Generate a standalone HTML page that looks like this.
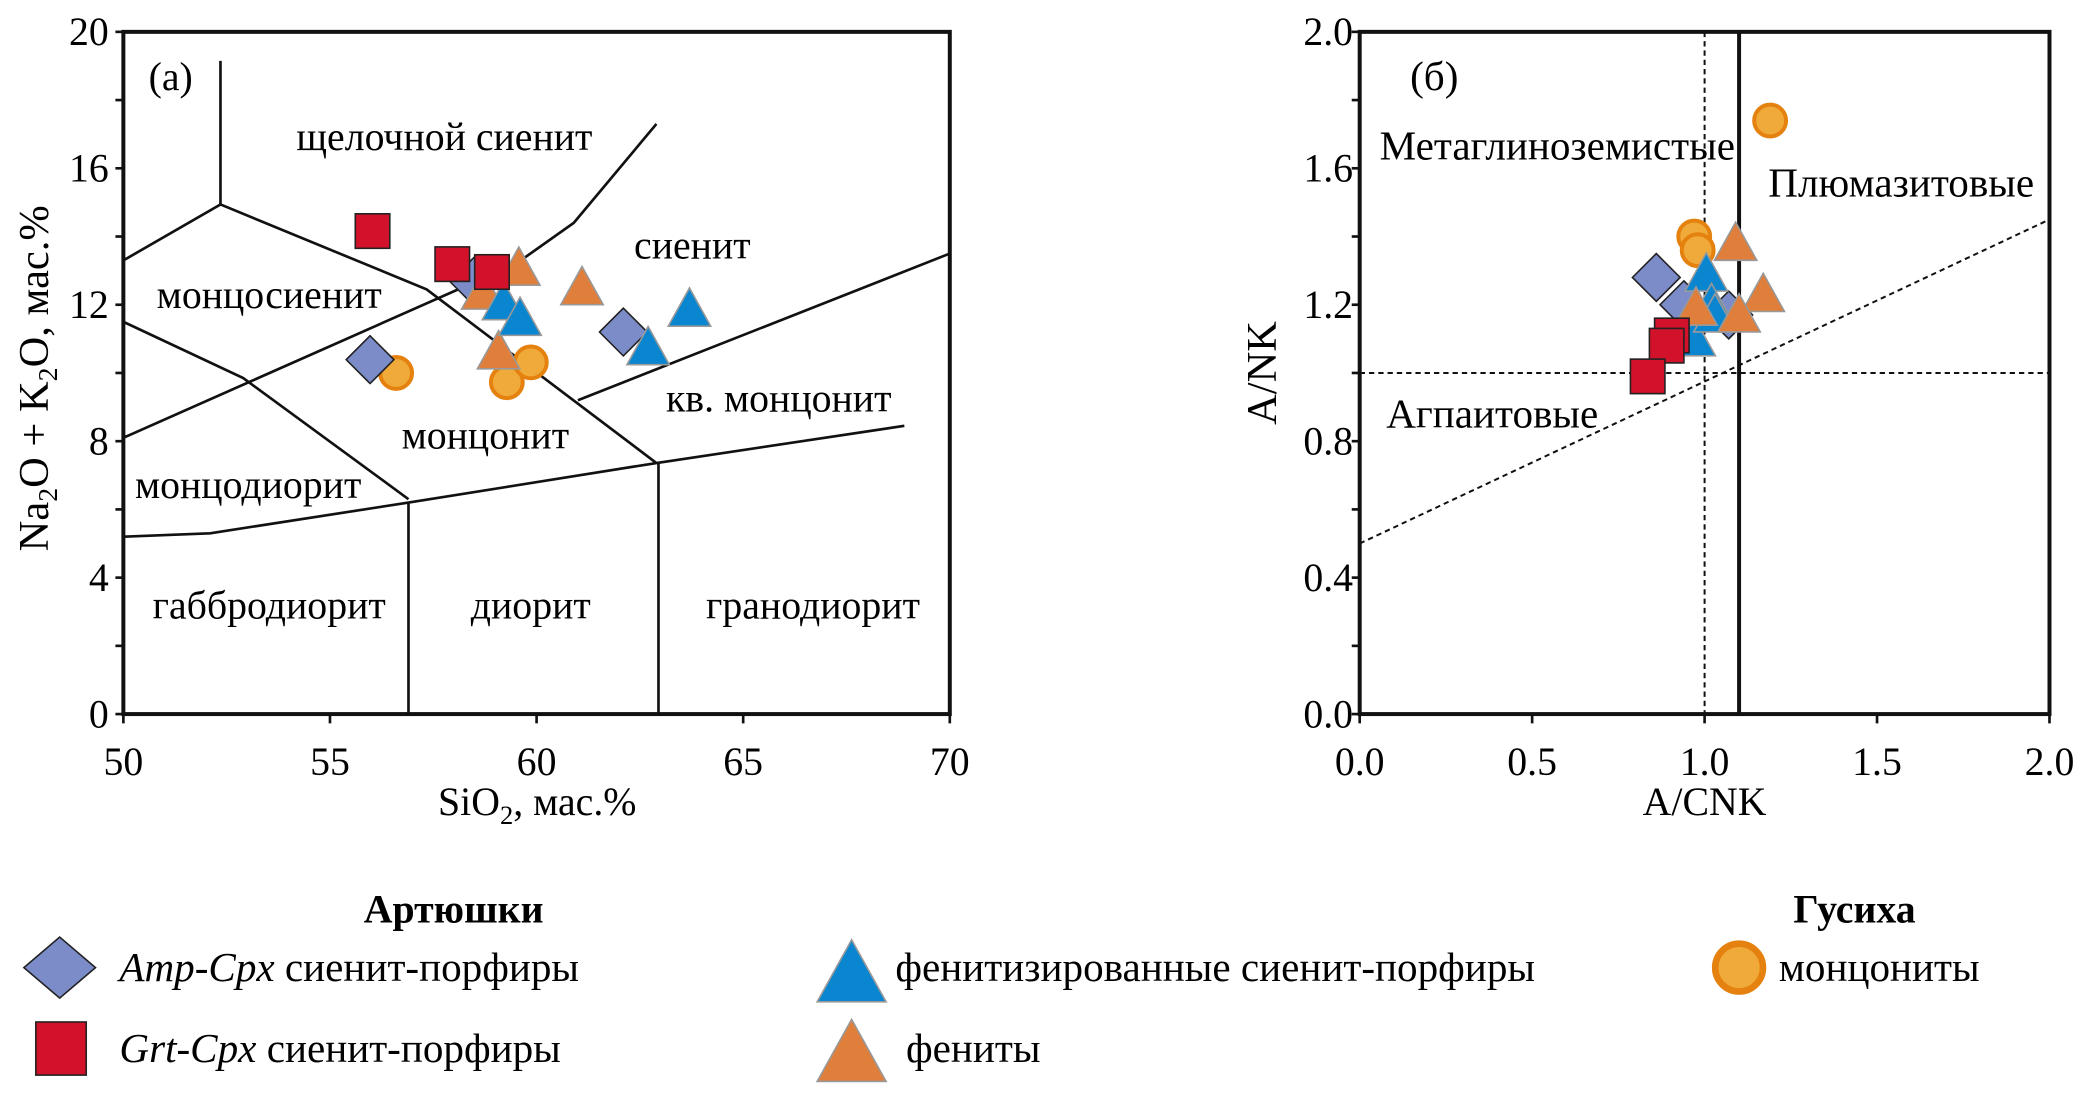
<!DOCTYPE html>
<html><head><meta charset="utf-8"><style>
html,body{margin:0;padding:0;background:#fff;}
svg{display:block;font-family:"Liberation Serif","DejaVu Serif",serif;}
</style></head><body>
<svg id="fig" width="2080" height="1095" viewBox="0 0 1568 825" preserveAspectRatio="none">
<g id="left"></g>
<g id="right"></g>
<g id="legend"></g>
</svg>
<script>
// ---- Chart (a) data: TAS ----
const tasXTicks = [50,55,60,65,70];
const tasYTicks = [0,4,8,12,16,20];
const tasDiamondX = [55.97,58.48,62.1];
const tasDiamondY = [10.39,12.68,11.2];
const tasSquareX = [56.03,57.96,58.92];
const tasSquareY = [14.16,13.19,12.96];
const tasBlueTriX = [59.2,59.6,62.7,63.7];
const tasBlueTriY = [12.06,11.6,10.74,11.87];
const tasOrangeTriX = [58.7,59.57,61.1,59.08];
const tasOrangeTriY = [12.37,13.07,12.5,10.62];
const tasCircleX = [56.6,59.28,59.86];
const tasCircleY = [10.0,9.73,10.31];
const tasBoundaries = [
 [[52.35,19.15],[52.35,14.94]],
 [[50,13.3],[52.35,14.94],[57.34,12.45],[62.9,7.36]],
 [[50,8.1],[59.5,13.2],[60.9,14.4],[62.9,17.3]],
 [[50,11.5],[52.9,9.85],[56.9,6.3]],
 [[50,5.2],[52.1,5.3],[56.9,6.2],[62.9,7.36],[68.9,8.45]],
 [[56.9,6.2],[56.9,0]],
 [[62.95,7.36],[62.95,0]],
 [[61,9.2],[70,13.5]]
];
const tasLabels = [
 ["щелочной сиенит",57.77,16.54],["сиенит",63.77,13.35],["монцосиенит",53.53,11.9],
 ["кв. монцонит",65.86,8.87],["монцонит",58.76,7.78],["монцодиорит",53.02,6.34],
 ["габбродиорит",53.53,2.8],["диорит",59.86,2.8],["гранодиорит",66.69,2.8]
];
// ---- Chart (б) data: A/CNK vs A/NK ----
const shXTicks = [0.0,0.5,1.0,1.5,2.0];
const shYTicks = [0.0,0.4,0.8,1.2,1.6,2.0];
const shDiamondX = [0.86,0.94,1.07];
const shDiamondY = [1.28,1.20,1.17];
const shSquareX = [0.905,0.89,0.835];
const shSquareY = [1.11,1.08,0.99];
const shBlueTriX = [1.005,1.02,0.97,1.03];
const shBlueTriY = [1.29,1.20,1.10,1.17];
const shOrangeTriX = [1.09,1.17,0.975,1.1];
const shOrangeTriY = [1.38,1.23,1.19,1.17];
const shCircleX = [1.19,0.97,0.98];
const shCircleY = [1.74,1.40,1.36];

const NS="http://www.w3.org/2000/svg";
function mk(parent,tag,attrs,text){const e=document.createElementNS(NS,tag);for(const k in attrs)e.setAttribute(k,attrs[k]);if(text!==undefined)e.textContent=text;parent.appendChild(e);return e;}
const C={dia:"#7b8cc9",sq:"#d2122a",bt:"#0a86d0",ot:"#e07f3b",ci:"#f0aa3a",cs:"#e5810f"};
function diamond(g,x,y,s,h){h=h||s;return mk(g,"polygon",{points:`${x},${y-h} ${x+s},${y} ${x},${y+h} ${x-s},${y}`,fill:C.dia,stroke:"#222","stroke-width":1.2});}
function square(g,x,y,s,h){h=h||s;return mk(g,"rect",{x:x-s,y:y-h,width:2*s,height:2*h,fill:C.sq,stroke:"#222","stroke-width":1.2});}
function tri(g,x,y,s,c){return mk(g,"polygon",{points:`${x},${y-s} ${x+s},${y+s*0.8} ${x-s},${y+s*0.8}`,fill:c,stroke:"#999","stroke-width":1.2});}
function circ(g,x,y,r){return mk(g,"circle",{cx:x,cy:y,r:r,fill:C.ci,stroke:C.cs,"stroke-width":3});}

// ---- Left chart ----
(function(){
const g=document.getElementById("left");
const L=93,R=716,T=24,B=538;
const sx=v=>L+(v-50)/20*(R-L), sy=v=>B-v/20*(B-T);
let e=mk(g,"rect",{x:L,y:T,width:R-L,height:B-T,fill:"none",stroke:"#111","stroke-width":3});


tasXTicks.forEach(v=>{mk(g,"line",{x1:sx(v),y1:B,x2:sx(v),y2:B+7,stroke:"#111","stroke-width":2});
 const t=mk(g,"text",{x:sx(v),y:B+46,"font-size":30,"text-anchor":"middle"},String(v));
 
 });
for(let v=0;v<=20;v+=2){mk(g,"line",{x1:L-6,y1:sy(v),x2:L,y2:sy(v),stroke:"#111","stroke-width":2});}
tasYTicks.forEach(v=>{const t=mk(g,"text",{x:L-11,y:sy(v)+10,"font-size":30,"text-anchor":"end"},String(v));
 
 });
tasBoundaries.forEach(p=>{const l=mk(g,"polyline",{points:p.map(q=>sx(q[0])+","+sy(q[1])).join(" "),fill:"none",stroke:"#111","stroke-width":2});
 
 });
tasLabels.forEach(a=>{const t=mk(g,"text",{x:sx(a[1]),y:sy(a[2]),"font-size":30,"text-anchor":"middle"},a[0]);
 
 });
e=mk(g,"text",{x:112,y:68,"font-size":30},"(а)");


e=mk(g,"text",{x:405,y:614,"font-size":30,"text-anchor":"middle"});
e.innerHTML='SiO<tspan font-size="20" dy="7">2</tspan><tspan dy="-7">, мас.%</tspan>';


e=mk(g,"text",{x:0,y:0,"font-size":32,"text-anchor":"middle",transform:`translate(36,${(T+B)/2+4}) rotate(-90)`});
e.innerHTML='Na<tspan font-size="21" dy="7">2</tspan><tspan dy="-7">O + K</tspan><tspan font-size="21" dy="7">2</tspan><tspan dy="-7">O, мас.%</tspan>';


tasCircleX.forEach((v,i)=>{const m=circ(g,sx(v),sy(tasCircleY[i]),12);});
tasDiamondX.forEach((v,i)=>{const m=diamond(g,sx(v),sy(tasDiamondY[i]),18);});
tasOrangeTriX.forEach((v,i)=>{const m=tri(g,sx(v),sy(tasOrangeTriY[i]),16,C.ot);});
tasBlueTriX.forEach((v,i)=>{const m=tri(g,sx(v),sy(tasBlueTriY[i]),16,C.bt);});
tasSquareX.forEach((v,i)=>{const m=square(g,sx(v),sy(tasSquareY[i]),13);});
})();

// ---- Right chart ----
(function(){
const g=document.getElementById("right");
const L=1025,R=1545,T=24,B=538;
const sx=v=>L+v/2*(R-L), sy=v=>B-v/2*(B-T);
let e=mk(g,"rect",{x:L,y:T,width:R-L,height:B-T,fill:"none",stroke:"#111","stroke-width":3});


shXTicks.forEach(v=>{mk(g,"line",{x1:sx(v),y1:B,x2:sx(v),y2:B+7,stroke:"#111","stroke-width":2});
 const t=mk(g,"text",{x:sx(v),y:B+46,"font-size":30,"text-anchor":"middle"},v.toFixed(1));
 
 });
for(let v=0;v<=2.001;v+=0.2){mk(g,"line",{x1:L-6,y1:sy(v),x2:L,y2:sy(v),stroke:"#111","stroke-width":2});}
shYTicks.forEach(v=>{const t=mk(g,"text",{x:L-5,y:sy(v)+10,"font-size":30,"text-anchor":"end"},v.toFixed(1));
 
 });
e=mk(g,"line",{x1:sx(1),y1:T,x2:sx(1),y2:B,stroke:"#111","stroke-width":1.5,"stroke-dasharray":"4,3"});

e=mk(g,"line",{x1:sx(1.1),y1:T,x2:sx(1.1),y2:B,stroke:"#111","stroke-width":3});

e=mk(g,"line",{x1:L,y1:sy(1),x2:R,y2:sy(1),stroke:"#111","stroke-width":1.5,"stroke-dasharray":"4,3"});

e=mk(g,"line",{x1:L,y1:sy(0.5),x2:R,y2:sy(1.45),stroke:"#111","stroke-width":1.5,"stroke-dasharray":"4,3"});

[["(б)",1063,68],["Метаглиноземистые",1040,120],["Плюмазитовые",1333,148],["Агпаитовые",1045,322]].forEach(a=>{
 const t=mk(g,"text",{x:a[1],y:a[2],"font-size":31},a[0]);
 });
e=mk(g,"text",{x:1285,y:614,"font-size":30,"text-anchor":"middle"},"A/CNK");

e=mk(g,"text",{x:0,y:0,"font-size":32,"text-anchor":"middle",transform:`translate(962,${(T+B)/2}) rotate(-90)`},"A/NK");

shCircleX.forEach((v,i)=>{const m=circ(g,sx(v),sy(shCircleY[i]),12);});
shDiamondX.forEach((v,i)=>{const m=diamond(g,sx(v),sy(shDiamondY[i]),18);});
shBlueTriX.forEach((v,i)=>{const m=tri(g,sx(v),sy(shBlueTriY[i]),16,C.bt);});
shOrangeTriX.forEach((v,i)=>{const m=tri(g,sx(v),sy(shOrangeTriY[i]),16,C.ot);});
shSquareX.forEach((v,i)=>{const m=square(g,sx(v),sy(shSquareY[i]),13);});
})();

// ---- Legend ----
(function(){
const g=document.getElementById("legend");
let e=mk(g,"text",{x:342,y:695,"font-size":30,"font-weight":"bold","text-anchor":"middle"},"Артюшки");

e=mk(g,"text",{x:1398,y:695,"font-size":30,"font-weight":"bold","text-anchor":"middle"},"Гусиха");

e=diamond(g,45,729,27,23);
e=mk(g,"text",{x:90,y:739,"font-size":31});e.innerHTML='<tspan font-style="italic">Amp-Cpx</tspan> сиенит-порфиры';

e=square(g,46,790,19,20);
e=mk(g,"text",{x:90,y:800,"font-size":31});e.innerHTML='<tspan font-style="italic">Grt-Cpx</tspan> сиенит-порфиры';

e=tri(g,642,734,26,C.bt);
e=mk(g,"text",{x:675,y:739,"font-size":31},"фенитизированные сиенит-порфиры");

e=tri(g,642,794,26,C.ot);
e=mk(g,"text",{x:683,y:800,"font-size":31},"фениты");

e=mk(g,"circle",{cx:1311,cy:729,r:18,fill:C.ci,stroke:C.cs,"stroke-width":5});

e=mk(g,"text",{x:1341,y:739,"font-size":31},"монцониты");

})();
</script>
</body></html>
